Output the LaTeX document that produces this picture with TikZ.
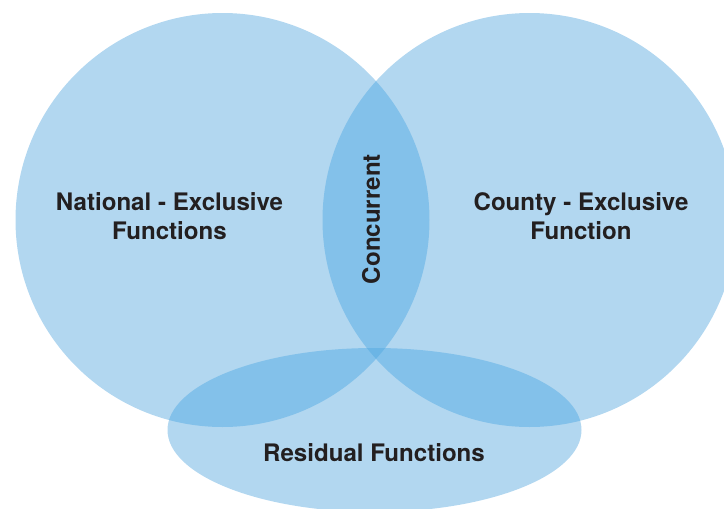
\documentclass[tikz,border=0pt]{standalone}
\usepackage{fontspec}
\setmainfont{TeX Gyre Heros}
\definecolor{vlight}{HTML}{B2D7F0}
\definecolor{vdark}{HTML}{83C1EA}
\definecolor{vdeep}{HTML}{6BB5E5}
\definecolor{vtext}{HTML}{231F20}
\begin{document}
\begin{tikzpicture}[x=1pt,y=-1pt,
  lbl/.style={font=\fontsize{24.1}{28.5}\selectfont\bfseries, text=vtext, align=center, inner sep=0pt}]
\useasboundingbox (0,0) rectangle (724,509);
\def\Lc{(222.5,220) circle (207pt)}
\def\Rc{(529.5,220) circle (207pt)}
\def\Ev{(374.5,430) ellipse [x radius=207pt, y radius=82pt]}
\fill[vlight] \Lc;
\fill[vlight] \Rc;
\fill[vlight] \Ev;
\begin{scope}
  \clip \Lc;
  \fill[vdark] \Rc;
  \fill[vdark] \Ev;
\end{scope}
\begin{scope}
  \clip \Rc;
  \fill[vdark] \Ev;
\end{scope}
\begin{scope}
  \clip \Lc;
  \clip \Rc;
  \fill[vdeep] \Ev;
\end{scope}
\node[lbl] (nat) at (169.5,216) {National - Exclusive\\Functions};
\node[lbl] (cty) at (581,216) {County - Exclusive\\Function};
\node[lbl, rotate=90] (con) at (371,219) {Concurrent};
\node[lbl] (res) at (374,453) {Residual Functions};
\end{tikzpicture}
\end{document}
